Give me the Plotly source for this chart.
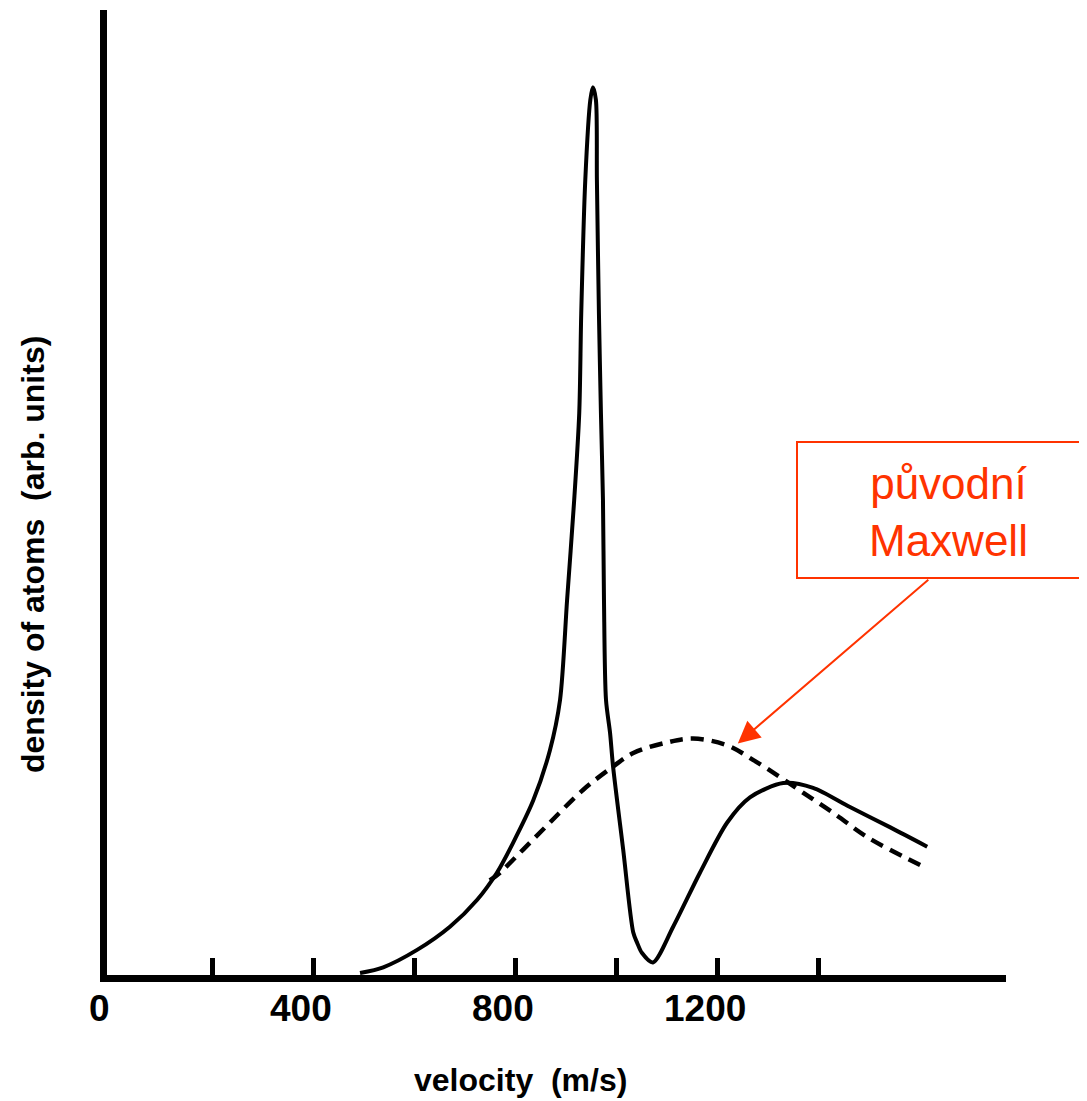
import plotly.graph_objects as go

# Measured velocity distribution (solid) – velocity in m/s, density in arb. units
v_solid = [493, 539, 606, 671, 725, 764, 796, 836, 869, 889, 903, 917, 927, 931, 939, 949, 954,
           960, 962, 966, 970, 974, 976, 980, 988, 994, 1014, 1034, 1042, 1051, 1073,
           1113, 1166, 1220, 1265, 1331, 1390, 1463, 1543, 1616]
d_solid = [0.2, 0.8, 2.6, 5.0, 7.8, 10.6, 13.7, 18.1, 23.3, 28.5, 38.9, 49.2, 58.2, 68.6, 82.4, 90.7, 92.0,
           90.7, 82.4, 68.6, 58.2, 49.2, 38.9, 28.5, 25.1, 21.6, 13.0, 4.4, 3.3, 2.3, 1.3,
           5.0, 10.6, 15.8, 18.4, 19.9, 19.4, 17.4, 15.3, 13.3]

# Original Maxwell distribution (dashed)
v_maxwell = [750, 770, 816, 869, 935, 994, 1034, 1101, 1152, 1220, 1271, 1325, 1370, 1430, 1497, 1602]
d_maxwell = [9.8, 10.6, 13.0, 15.8, 19.2, 21.6, 23.0, 24.1, 24.5, 23.8, 22.3, 20.5, 18.9, 16.8, 14.3, 11.4]

tick_vals = [200, 400, 600, 800, 1000, 1200, 1400]
label_vals = [0, 400, 800, 1200]
label_text = ["0", "400", "800", "1200"]

# page is rendered with an 8px body margin; plot area in page px: x 107..1006, y 10..975
OFF = 8
PL, PR, PT, PB = 107, 1006, 10, 975
W, H = 1087 - OFF, 1101 - OFF


def px(xp):
    return (xp - PL) / (PR - PL)


def py(yp):
    return (PB - yp) / (PB - PT)


fig = go.Figure()
fig.add_trace(go.Scatter(x=v_solid, y=d_solid, mode="lines",
                         line=dict(color="black", width=4, shape="spline", smoothing=0.8),
                         showlegend=False, hoverinfo="skip"))
fig.add_trace(go.Scatter(x=v_maxwell, y=d_maxwell, mode="lines",
                         line=dict(color="black", width=4.5, dash="13px,8px", shape="spline", smoothing=1.0),
                         showlegend=False, hoverinfo="skip"))

red = "#FF3300"
font_ax = "Liberation Sans, Arial, sans-serif"

annotations = []
for v, t in zip(label_vals, label_text):
    annotations.append(dict(text=t, x=v, xref="x", y=py(1008), yref="paper", xshift=-12,
                            showarrow=False, xanchor="center", yanchor="middle",
                            font=dict(family=font_ax, size=37, color="black", weight="bold")))
annotations += [
    dict(text="velocity  (m/s)", xref="paper", yref="paper",
         x=px(520), y=py(1080), showarrow=False,
         xanchor="center", yanchor="middle",
         font=dict(family=font_ax, size=32, color="black", weight="bold")),
    dict(text="density of atoms  (arb. units)", xref="paper", yref="paper",
         x=px(33), y=py(555), showarrow=False, textangle=-90,
         xanchor="center", yanchor="middle",
         font=dict(family=font_ax, size=32, color="black", weight="bold")),
    dict(text="původní<br>Maxwell", xref="paper", yref="paper",
         x=px(948), y=py(512), showarrow=False,
         xanchor="center", yanchor="middle",
         font=dict(family=font_ax, size=44, color=red)),
    dict(text="", x=1241, y=24.0, xref="x", yref="y",
         showarrow=True, ax=192, ay=-165, arrowcolor=red,
         arrowwidth=2, arrowhead=2, arrowsize=2.2),
]

fig.update_layout(
    width=W, height=H,
    margin=dict(l=PL - OFF, r=W - (PR - OFF), t=PT - OFF, b=H - (PB - OFF), pad=0),
    paper_bgcolor="white", plot_bgcolor="white",
    xaxis=dict(range=[-8, 1772], showgrid=False, zeroline=False,
               showline=True, linecolor="black", linewidth=7,
               tickmode="array", tickvals=tick_vals, showticklabels=False,
               ticks="inside", ticklen=17, tickwidth=5, tickcolor="black"),
    yaxis=dict(range=[0, 100], showgrid=False, zeroline=False,
               showline=True, linecolor="black", linewidth=7,
               showticklabels=False, ticks=""),
    shapes=[dict(type="rect", xref="paper", yref="paper",
                 x0=px(797), x1=px(1095), y0=py(578), y1=py(442),
                 line=dict(color=red, width=2), fillcolor="white")],
    annotations=annotations,
)

fig.write_html("out.html")
